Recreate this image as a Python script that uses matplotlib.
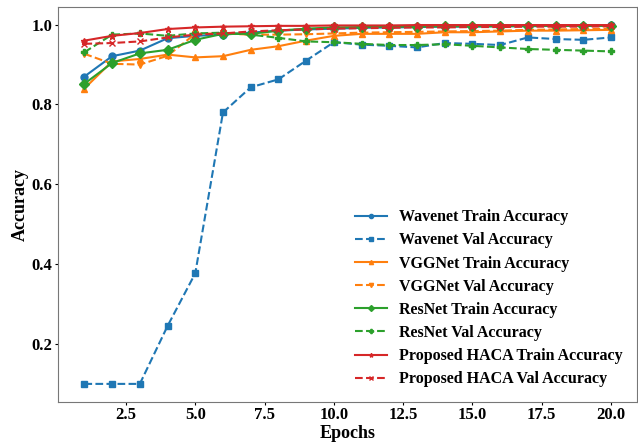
import numpy as np
from matplotlib import pyplot as plt

epochs = np.arange(1, 21)

wavenet_train = [0.870, 0.921, 0.935, 0.966, 0.972, 0.975, 0.980, 0.985, 0.988, 0.990,
                 0.992, 0.993, 0.994, 0.995, 0.995, 0.996, 0.996, 0.997, 0.997, 0.998]
wavenet_val = [0.100, 0.100, 0.100, 0.245, 0.377, 0.780, 0.843, 0.863, 0.910, 0.956,
               0.950, 0.947, 0.943, 0.954, 0.952, 0.949, 0.968, 0.964, 0.962, 0.968]
vgg_train = [0.840, 0.908, 0.914, 0.925, 0.918, 0.921, 0.937, 0.946, 0.960, 0.972,
             0.977, 0.977, 0.977, 0.981, 0.981, 0.983, 0.985, 0.985, 0.986, 0.987]
vgg_val = [0.927, 0.902, 0.900, 0.922, 0.977, 0.978, 0.975, 0.975, 0.976, 0.978,
           0.980, 0.981, 0.982, 0.983, 0.984, 0.985, 0.987, 0.988, 0.989, 0.990]
resnet_train = [0.852, 0.904, 0.928, 0.937, 0.962, 0.977, 0.977, 0.985, 0.990, 0.993,
                0.994, 0.995, 0.995, 0.996, 0.996, 0.996, 0.997, 0.997, 0.997, 0.997]
resnet_val = [0.931, 0.975, 0.978, 0.972, 0.978, 0.980, 0.975, 0.967, 0.958, 0.956,
              0.952, 0.949, 0.949, 0.951, 0.947, 0.943, 0.939, 0.937, 0.935, 0.933]
haca_train = [0.960, 0.972, 0.979, 0.989, 0.993, 0.995, 0.996, 0.997, 0.997, 0.998,
              0.998, 0.998, 0.999, 0.999, 0.999, 0.999, 0.999, 0.999, 0.999, 0.999]
haca_val = [0.952, 0.954, 0.958, 0.968, 0.975, 0.978, 0.983, 0.986, 0.988, 0.990,
            0.991, 0.992, 0.993, 0.993, 0.994, 0.994, 0.995, 0.995, 0.995, 0.996]

plt.rcParams['font.family'] = 'Liberation Serif'
plt.rcParams['font.weight'] = 'bold'

fig, ax = plt.subplots(figsize=(6.38, 4.45), dpi=100)
fig.subplots_adjust(left=0.091, right=0.999, top=0.984, bottom=0.097)

ms = 5
ax.plot(epochs, wavenet_train, '-o', color='tab:blue', ms=ms, label='Wavenet Train Accuracy')
ax.plot(epochs, wavenet_val, '--s', color='tab:blue', ms=ms, label='Wavenet Val Accuracy')
ax.plot(epochs, vgg_train, '-^', color='tab:orange', ms=ms, label='VGGNet Train Accuracy')
ax.plot(epochs, vgg_val, '--v', color='tab:orange', ms=ms, label='VGGNet Val Accuracy')
ax.plot(epochs, resnet_train, '-D', color='tab:green', ms=ms, label='ResNet Train Accuracy')
ax.plot(epochs, resnet_val, '--P', color='tab:green', ms=ms, label='ResNet Val Accuracy')
ax.plot(epochs, haca_train, '-*', color='tab:red', ms=ms, label='Proposed HACA Train Accuracy')
ax.plot(epochs, haca_val, '--x', color='tab:red', ms=ms, label='Proposed HACA Val Accuracy')

ax.set_xlabel('Epochs', fontsize=13, fontweight='bold', labelpad=1)
ax.set_ylabel('Accuracy', fontsize=13, fontweight='bold', labelpad=2)
ax.tick_params(labelsize=12, length=2.5, pad=1.5)
for lab in ax.get_xticklabels() + ax.get_yticklabels():
    lab.set_fontweight('bold')
for sp in ax.spines.values():
    sp.set_color('#777777')

ax.legend(loc='lower right', frameon=False, fontsize=11.5, labelspacing=0.45,
          markerscale=0.6)

plt.savefig('out.png', dpi=100)
